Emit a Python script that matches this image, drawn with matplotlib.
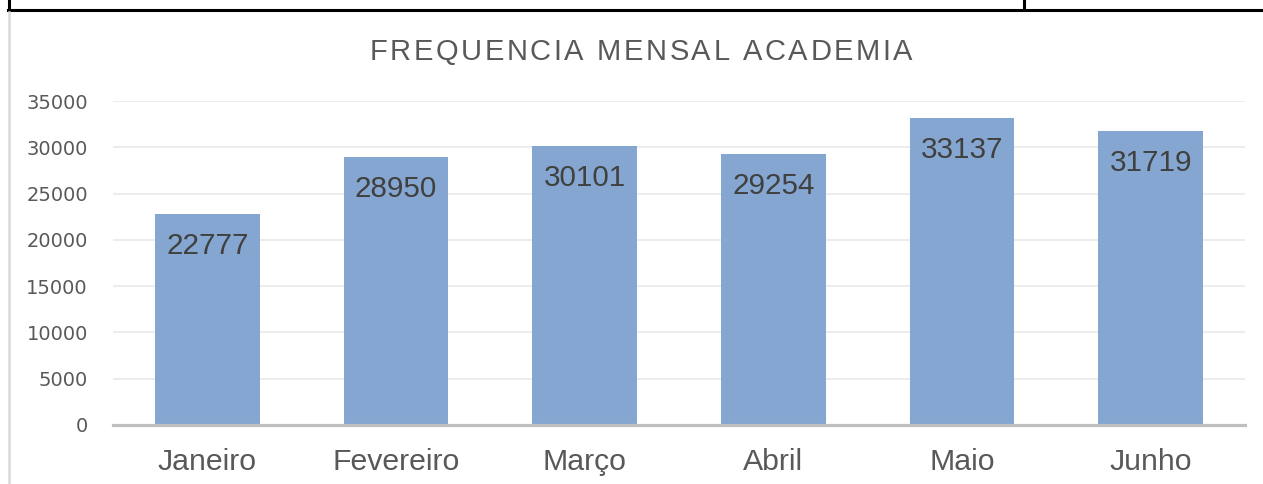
import matplotlib
matplotlib.use("Agg")
import matplotlib.pyplot as plt
from matplotlib.lines import Line2D

months = ["Janeiro", "Fevereiro", "Março", "Abril", "Maio", "Junho"]
visits = [22777, 28950, 30101, 29254, 33137, 31719]
yticks = [0, 5000, 10000, 15000, 20000, 25000, 30000, 35000]
title = "FREQUENCIA MENSAL ACADEMIA"

W, H = 1263, 484
fig = plt.figure(figsize=(W / 100, H / 100), dpi=100)
fig.patch.set_facecolor("white")

def fx(px):
    return px / W

def fy(py):
    return 1 - py / H

ax = fig.add_axes([fx(113), fy(425), fx(1245) - fx(113), fy(101) - fy(425)])
x = list(range(len(months)))
bars = ax.bar(x, visits, width=0.556, color="#84A6D0", zorder=2)
ax.set_xlim(-0.5, len(months) - 0.5)
ax.set_ylim(0, 35000)
ax.set_yticks(yticks)
ax.set_yticklabels([str(v) for v in yticks], fontfamily="DejaVu Sans",
                   fontsize=14, color="#595959")
ax.set_xticks(x)
ax.set_xticklabels(months, fontfamily="Liberation Sans", fontsize=21.8, color="#595959")
ax.tick_params(axis="y", length=0, pad=18)
ax.tick_params(axis="x", length=0, pad=16.5)
for s in ["top", "right", "left"]:
    ax.spines[s].set_visible(False)
ax.spines["bottom"].set_color("#BFBFBF")
ax.spines["bottom"].set_linewidth(2.3)
ax.spines["bottom"].set_zorder(3)
ax.yaxis.grid(True, color="#EBEBEB", linewidth=1.3, zorder=0)
ax.set_axisbelow(True)

for xi, v in zip(x, visits):
    ax.annotate(str(v), xy=(xi, v), xytext=(0, -40), textcoords="offset pixels",
                ha="center", va="baseline", fontfamily="Liberation Sans",
                fontsize=21.3, color="#404040", zorder=4)

# Title with letter spacing, drawn character by character (advance widths)
renderer = fig.canvas.get_renderer()
tsize = 21
spacing = 2.6

def text_width(s):
    t = fig.text(0, 0, s, fontfamily="Liberation Sans", fontsize=tsize)
    w = t.get_window_extent(renderer).width
    t.remove()
    return w

ref = text_width("HH")
widths = [text_width("H" + ch + "H") - ref for ch in title]
total = sum(widths) + spacing * (len(title) - 1)
cx = 641
pos = cx - total / 2
for ch, w in zip(title, widths):
    if ch != " ":
        fig.text(fx(pos + w / 2), fy(60), ch, fontfamily="Liberation Sans", fontsize=tsize,
                 color="#595959", ha="center", va="baseline")
    pos += w + spacing

# Frame / table borders
fig.add_artist(Line2D([fx(8), fx(1263)], [fy(10), fy(10)], color="black", linewidth=2.2))
fig.add_artist(Line2D([fx(9), fx(9)], [fy(0), fy(10)], color="black", linewidth=2.2))
fig.add_artist(Line2D([fx(1024), fx(1024)], [fy(0), fy(10)], color="black", linewidth=2.2))
fig.add_artist(Line2D([fx(9), fx(9)], [fy(12), fy(484)], color="#D9D9D9", linewidth=1.8))

fig.savefig("out.png", dpi=100)
